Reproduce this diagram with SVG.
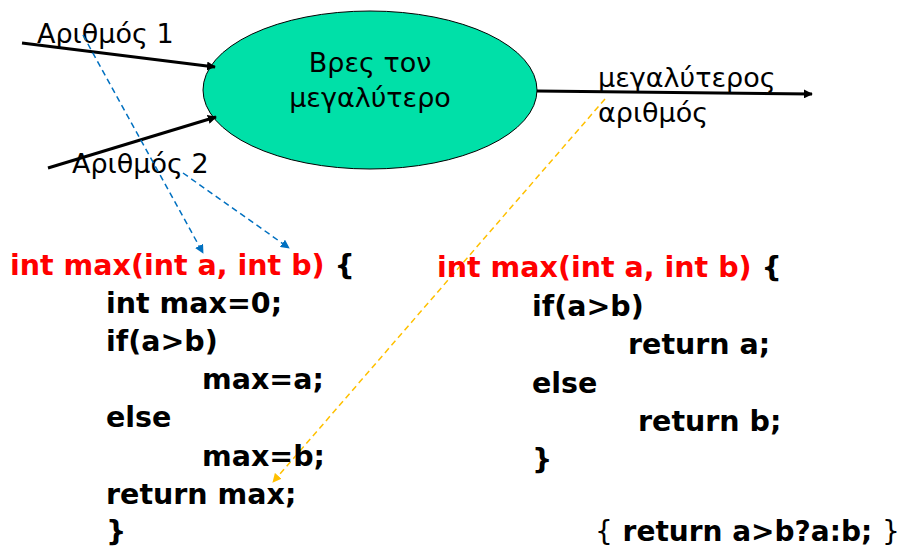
<svg xmlns="http://www.w3.org/2000/svg" width="903" height="550" viewBox="0 0 903 550">
<defs>
<marker id="ab" viewBox="0 0 10 10" refX="9" refY="5" markerWidth="9" markerHeight="9" markerUnits="userSpaceOnUse" orient="auto"><path d="M0,0 L10,5 L0,10 z" fill="#000"/></marker>
<marker id="abl" viewBox="0 0 10 10" refX="9" refY="5" markerWidth="9" markerHeight="9" markerUnits="userSpaceOnUse" orient="auto"><path d="M0,0 L10,5 L0,10 z" fill="#0070C0"/></marker>
<marker id="aor" viewBox="0 0 10 10" refX="9" refY="5" markerWidth="9" markerHeight="9" markerUnits="userSpaceOnUse" orient="auto"><path d="M0,0 L10,5 L0,10 z" fill="#FFC000"/></marker>
</defs>
<style>
.lbl{font-family:"DejaVu Sans",Verdana,sans-serif;font-size:27px;fill:#000}
.code{font-family:"DejaVu Sans",Verdana,sans-serif;font-size:28.5px;font-weight:bold;fill:#000}
.red{fill:#FF0000}
.reg{font-weight:normal}
.solid{stroke:#000;stroke-width:3;fill:none}
.blue{stroke:#0070C0;stroke-width:1.5;stroke-dasharray:6,4;fill:none}
.orange{stroke:#FFC000;stroke-width:1.5;stroke-dasharray:6,4;fill:none}
</style>
<rect width="903" height="550" fill="#fff"/>
<g id="process">
<ellipse cx="370" cy="90" rx="167" ry="79" fill="#00E0A8" stroke="#000" stroke-width="1"/>
<text class="lbl" x="370" y="72" text-anchor="middle">Βρες τον</text>
<text class="lbl" x="370" y="107" text-anchor="middle">μεγαλύτερο</text>
</g>
<g id="input1"><text class="lbl" x="37" y="43">Αριθμός 1</text></g>
<g id="input2"><text class="lbl" x="72" y="173">Αριθμός 2</text></g>
<g id="output"><text class="lbl" x="598" y="87">μεγαλύτερος</text><text class="lbl" x="598" y="122">αριθμός</text></g>
<g id="connectors">
<line class="solid" x1="22" y1="43" x2="215" y2="67" marker-end="url(#ab)"/>
<line class="solid" x1="48" y1="168" x2="216" y2="117" marker-end="url(#ab)"/>
<line class="solid" x1="537" y1="91" x2="812" y2="94" marker-end="url(#ab)"/>
<line class="blue" x1="83" y1="35" x2="203" y2="253" marker-end="url(#abl)"/>
<line class="blue" x1="183" y1="173" x2="289" y2="248" marker-end="url(#abl)"/>
<line class="orange" x1="605" y1="99" x2="273" y2="482" marker-end="url(#aor)"/>
</g>
<g id="code-left">
<text class="code" x="10" y="275"><tspan class="red">int max(int a, int b)</tspan> {</text>
<text class="code" x="106" y="313">int max=0;</text>
<text class="code" x="106" y="351">if(a&gt;b)</text>
<text class="code" x="202" y="389">max=a;</text>
<text class="code" x="106" y="427">else</text>
<text class="code" x="202" y="466">max=b;</text>
<text class="code" x="106" y="504">return max;</text>
<text class="code" x="106" y="541">}</text>
</g>
<g id="code-right">
<text class="code" x="437" y="277"><tspan class="red">int max(int a, int b)</tspan> {</text>
<text class="code" x="532" y="316">if(a&gt;b)</text>
<text class="code" x="628" y="354">return a;</text>
<text class="code" x="532" y="393">else</text>
<text class="code" x="638" y="431">return b;</text>
<text class="code" x="532" y="469">}</text>
<text class="code" x="595" y="541" style="font-size:28px"><tspan class="reg">{</tspan> return a&gt;b?a:b; <tspan class="reg">}</tspan></text>
</g>
</svg>
